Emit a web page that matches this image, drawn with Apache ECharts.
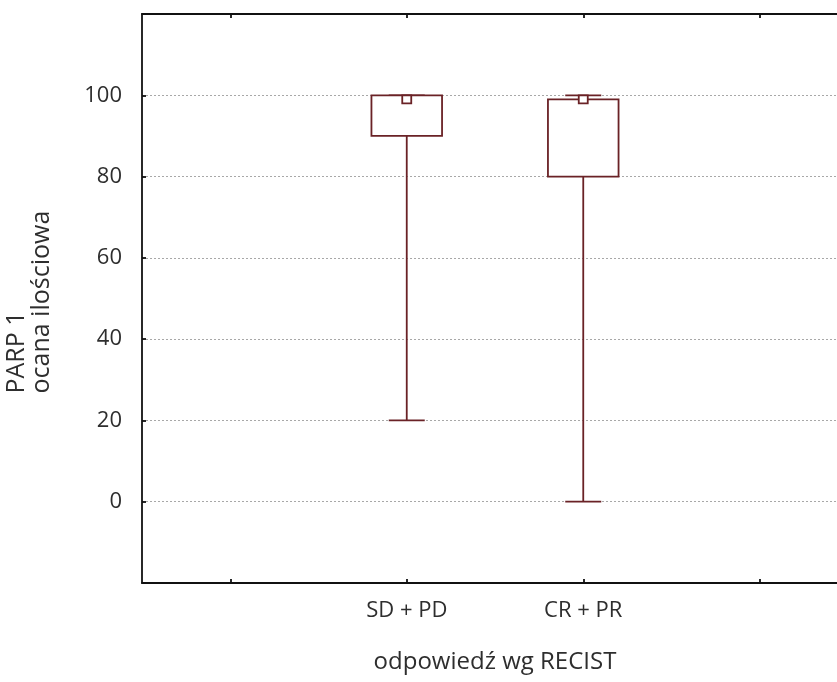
<!DOCTYPE html>
<html>
<head>
<meta charset="utf-8">
<script src="https://cdn.jsdelivr.net/npm/echarts@6/dist/echarts.min.js"></script>
<style>
html,body{margin:0;padding:0;background:#fff;}
#chart{width:837px;height:682px;}
</style>
</head>
<body>
<div id="chart"></div>
<script>
const categories = ['', 'SD + PD', 'CR + PR', ''];
const groupNames = ['SD + PD', 'CR + PR'];
const minVals = [20, 0];
const q1Vals = [90, 80];
const medianVals = [99, 99];
const q3Vals = [100, 99];
const maxVals = [100, 100];
const yTickLabels = ['0', '20', '40', '60', '80', '100'];
const yTitleLines = ['PARP 1', 'ocana ilościowa'];

const lineColor = '#6a2226';
const textColor = '#2e2e2e';
const fontFamily = '"Open Sans", "DejaVu Sans", sans-serif';

const seriesData = groupNames.map((n, i) => [
  categories.indexOf(n), minVals[i], q1Vals[i], medianVals[i], q3Vals[i], maxVals[i]
]);

const chart = echarts.init(document.getElementById('chart'), null, {renderer: 'canvas'});

function renderBox(params, api) {
  const x = api.value(0);
  const pMin = api.coord([x, api.value(1)]);
  const pQ1 = api.coord([x, api.value(2)]);
  const pMed = api.coord([x, api.value(3)]);
  const pQ3 = api.coord([x, api.value(4)]);
  const pMax = api.coord([x, api.value(5)]);
  const bw = api.size([1, 0])[0] * 0.4;
  const capW = bw * 0.51;
  const cx = pQ1[0];
  const st = {stroke: lineColor, lineWidth: 1.8, fill: null};
  const children = [];
  children.push({type: 'line', shape: {x1: cx, y1: pQ1[1], x2: cx, y2: pMin[1]}, style: st});
  children.push({type: 'line', shape: {x1: cx - capW / 2, y1: pMin[1], x2: cx + capW / 2, y2: pMin[1]}, style: st});
  children.push({type: 'line', shape: {x1: cx, y1: pQ3[1], x2: cx, y2: pMax[1]}, style: st});
  children.push({type: 'line', shape: {x1: cx - capW / 2, y1: pMax[1], x2: cx + capW / 2, y2: pMax[1]}, style: st});
  children.push({type: 'rect', shape: {x: cx - bw / 2, y: pQ3[1], width: bw, height: pQ1[1] - pQ3[1]},
    style: {stroke: lineColor, lineWidth: 1.8, fill: '#ffffff'}});
  children.push({type: 'rect', shape: {x: cx - 4.5, y: pMed[1] - 4, width: 9, height: 8},
    style: {stroke: lineColor, lineWidth: 1.8, fill: '#ffffff'}});
  return {type: 'group', children: children};
}

const option = {
  backgroundColor: '#ffffff',
  animation: false,
  textStyle: {fontFamily: fontFamily},
  grid: {left: 142, top: 14, width: 706, height: 569, containLabel: false, outerBoundsMode: 'none'},
  xAxis: [{
    type: 'category',
    data: categories,
    position: 'bottom',
    boundaryGap: true,
    axisLine: {show: true, onZero: false, lineStyle: {color: '#111', width: 1.8}},
    axisTick: {show: true, inside: true, alignWithLabel: true, length: 4, lineStyle: {color: '#111', width: 1.8}},
    axisLabel: {show: true, margin: 17, fontSize: 22, color: textColor, fontFamily: fontFamily, interval: 0},
    splitLine: {show: false},
    name: 'odpowiedź wg RECIST',
    nameLocation: 'middle',
    nameGap: 67,
    nameTextStyle: {fontSize: 24, color: textColor, fontFamily: fontFamily}
  }, {
    type: 'category',
    data: categories,
    position: 'top',
    boundaryGap: true,
    axisLine: {show: true, onZero: false, lineStyle: {color: '#111', width: 1.8}},
    axisTick: {show: true, inside: true, alignWithLabel: true, length: 4, lineStyle: {color: '#111', width: 1.8}},
    axisLabel: {show: false},
    splitLine: {show: false}
  }],
  yAxis: {
    type: 'value',
    min: -20,
    max: 120,
    interval: 20,
    axisLine: {show: true, lineStyle: {color: '#111', width: 1.8}},
    axisTick: {show: true, inside: true, length: 4, lineStyle: {color: '#111', width: 1.8}},
    axisLabel: {
      margin: 20, fontSize: 22, color: textColor, fontFamily: fontFamily,
      formatter: function (v) { const s = String(v); return yTickLabels.indexOf(s) >= 0 ? s : ''; }
    },
    splitLine: {show: true, lineStyle: {color: '#a8a8a8', type: [2, 2], width: 1}},
    name: yTitleLines.map(s => '{a|' + s + '}').join('\n'),
    nameLocation: 'middle',
    nameGap: 88,
    nameRotate: 90,
    nameTextStyle: {
      fontSize: 25, color: textColor, fontFamily: fontFamily, lineHeight: 25, align: 'center',
      rich: {a: {width: 190, align: 'left', fontSize: 25, lineHeight: 25, color: textColor, fontFamily: fontFamily}}
    }
  },
  series: [{
    type: 'custom',
    xAxisIndex: 0,
    yAxisIndex: 0,
    renderItem: renderBox,
    encode: {x: 0, y: [1, 2, 3, 4, 5]},
    data: seriesData,
    clip: false
  }]
};
chart.setOption(option);
</script>
</body>
</html>
